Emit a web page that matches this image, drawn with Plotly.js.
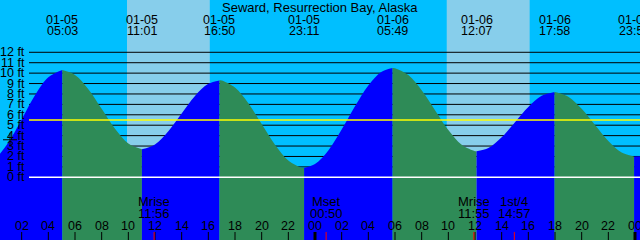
<!DOCTYPE html>
<html>
<head>
<meta charset="utf-8">
<script src="https://cdn.plot.ly/plotly-3.0.1.min.js"></script>
<style>html,body{margin:0;padding:0;background:#00BFFF;}#chart{width:640px;height:240px;}</style>
</head>
<body>
<div id="chart"></div>
<script>
// ---- data (hours from 01-05 00:00, feet) ----
const tideHours = [0.375, 1, 2, 3, 4, 5.05, 6, 7, 8, 9, 10, 11.017, 12, 13, 14, 15, 16, 16.833,
  17, 18, 19, 20, 21, 22, 23, 23.183, 24, 25, 26, 27, 28, 29, 29.817, 30, 31, 32, 33, 34, 35, 36, 36.117,
  37, 38, 39, 40, 41, 41.967, 42, 43, 44, 45, 46, 47, 47.933, 48.375];
const tideFeet = [2.25, 3.33, 5.56, 7.87, 9.6, 10.3, 9.83, 8.46, 6.57, 4.65, 3.24, 2.7, 3.16, 4.42, 6.13, 7.81, 8.97, 9.3,
  9.29, 8.61, 7.11, 5.12, 3.13, 1.61, 0.92, 0.9, 1.27, 2.58, 4.58, 6.82, 8.82, 10.13, 10.5, 10.48, 9.82, 8.35, 6.44, 4.53, 3.12, 2.51, 2.5,
  2.81, 3.84, 5.29, 6.75, 7.82, 8.2, 8.2, 7.74, 6.58, 5.02, 3.48, 2.37, 2.0, 2.03];

const extremeHours = [5.05, 11.017, 16.833, 23.183, 29.817, 36.117, 41.967, 47.933];
const extremeDates = ['01-05', '01-05', '01-05', '01-05', '01-06', '01-06', '01-06', '01-06'];
const extremeTimes = ['05:03', '11:01', '16:50', '23:11', '05:49', '12:07', '17:58', '23:56'];

const sunriseHours = [9.9, 33.88];
const sunsetHours = [16.11, 40.1];

const levelLines = [1, 2, 3, 4, 5, 6, 7, 8, 9, 10, 11, 12];
const levelLabels = ['0 ft', '1 ft', '2 ft', '3 ft', '4 ft', '5 ft', '6 ft', '7 ft', '8 ft', '9 ft', '10 ft', '11 ft', '12 ft'];
const levelLabelFeet = [0, 1, 2, 3, 4, 5, 6, 7, 8, 9, 10, 11, 12];
const meanLevel = 5.5;

const hourTicks = [2, 4, 6, 8, 10, 12, 14, 16, 18, 20, 22, 24, 26, 28, 30, 32, 34, 36, 38, 40, 42, 44, 46, 48];
const hourTickText = ['02', '04', '06', '08', '10', '12', '14', '16', '18', '20', '22', '00', '02', '04', '06', '08', '10', '12', '14', '16', '18', '20', '22', '00'];
const midnightHours = [24, 48];

const moonHours = [11.933, 24.833, 35.917, 38.95];
const moonNames = ['Mrise', 'Mset', 'Mrise', '1st/4'];
const moonTimes = ['11:56', '00:50', '11:55', '14:57'];

const nowHour = [1.125];
const nowFeet = [3.6];

// ---- layout constants ----
const W = 640, H = 240;
const xRange = [0.375, 48.375];
const yRange = [-6.02, 17.02];
const FONT = 'Liberation Sans, Arial, sans-serif';
const py = p => 1 - p / H;

// ---- traces: split curve at extremes ----
const traces = [];
let seg = [0];
for (let i = 1; i < tideHours.length; i++) {
  seg.push(i);
  const isExt = extremeHours.includes(tideHours[i]);
  if (isExt || i === tideHours.length - 1) {
    const xs = seg.map(k => tideHours[k]);
    const ys = seg.map(k => tideFeet[k]);
    const rising = ys[ys.length - 1] > ys[0];
    traces.push({x: [xs[0], xs[xs.length - 1]], y: [yRange[0] - 1, yRange[0] - 1], mode: 'lines',
      line: {width: 0}, hoverinfo: 'skip', showlegend: false});
    traces.push({x: xs, y: ys, mode: 'lines', line: {width: 0, shape: 'spline'}, fill: 'tonexty',
      fillcolor: rising ? '#0000FF' : '#2E8B57', hoverinfo: 'skip', showlegend: false});
    seg = [i];
  }
}
traces.push({x: nowHour, y: nowFeet, mode: 'markers', marker: {symbol: 'cross-thin', size: 10,
  line: {color: 'black', width: 1}}, showlegend: false, hoverinfo: 'skip'});

// ---- shapes ----
const shapes = [];
sunriseHours.forEach((s, i) => shapes.push({type: 'rect', xref: 'x', yref: 'paper', x0: s, x1: sunsetHours[i],
  y0: 0, y1: 1, fillcolor: '#87CEEB', line: {width: 0}, layer: 'below'}));
levelLines.forEach(v => shapes.push({type: 'line', xref: 'paper', yref: 'y', x0: 29 / W, x1: 1, y0: v, y1: v,
  line: {color: 'black', width: 1}, layer: 'below'}));
shapes.push({type: 'line', xref: 'paper', yref: 'y', x0: 29 / W, x1: 1, y0: meanLevel, y1: meanLevel,
  line: {color: '#FFFF00', width: 1.5}, layer: 'above'});
shapes.push({type: 'line', xref: 'paper', yref: 'y', x0: 29 / W, x1: 1, y0: 0, y1: 0,
  line: {color: '#FFFFFF', width: 1.5}, layer: 'above'});
hourTicks.forEach(h => shapes.push({type: 'line', xref: 'x', yref: 'paper', x0: h, x1: h, y0: 0, y1: 8 / H,
  line: {color: 'black', width: 1}, layer: 'above'}));
midnightHours.forEach(h => shapes.push({type: 'line', xref: 'x', yref: 'paper', x0: h, x1: h, y0: 0, y1: 8 / H,
  line: {color: 'black', width: 3}, layer: 'above'}));
moonHours.forEach(h => shapes.push({type: 'line', xref: 'x', yref: 'paper', x0: h, x1: h, y0: 0, y1: 8 / H,
  line: {color: '#FF0000', width: 1}, layer: 'above'}));

// ---- annotations ----
const ann = [];
const txt = (x, xref, y, yref, text, size, xanchor) => ann.push({x, xref, y, yref, text, showarrow: false,
  xanchor: xanchor || 'center', yanchor: 'middle', font: {family: FONT, size: size || 12, color: 'black'}});
txt(0.5, 'paper', py(7.5), 'paper', 'Seward, Resurrection Bay, Alaska', 13);
extremeHours.forEach((h, i) => {
  txt(h, 'x', py(19.5), 'paper', extremeDates[i], 12.5);
  txt(h, 'x', py(31.2), 'paper', extremeTimes[i], 12.5);
});
levelLabelFeet.forEach((v, i) => txt(26.5 / W, 'paper', v, 'y', levelLabels[i], 12.5, 'right'));
moonHours.forEach((h, i) => {
  txt(h, 'x', py(201.7), 'paper', moonNames[i], 13);
  txt(h, 'x', py(213.2), 'paper', moonTimes[i], 13);
});
hourTicks.forEach((h, i) => txt(h, 'x', py(225.8), 'paper', hourTickText[i], 12.5));

const layout = {
  width: W, height: H, margin: {l: 0, r: 0, t: 0, b: 0, pad: 0},
  paper_bgcolor: '#00BFFF', plot_bgcolor: '#00BFFF', showlegend: false,
  xaxis: {range: xRange, showgrid: false, zeroline: false, showticklabels: false, ticks: '', showline: false, fixedrange: true},
  yaxis: {range: yRange, showgrid: false, zeroline: false, showticklabels: false, ticks: '', showline: false, fixedrange: true},
  shapes: shapes, annotations: ann
};
Plotly.newPlot('chart', traces, layout, {staticPlot: true, displayModeBar: false});
</script>
</body>
</html>
